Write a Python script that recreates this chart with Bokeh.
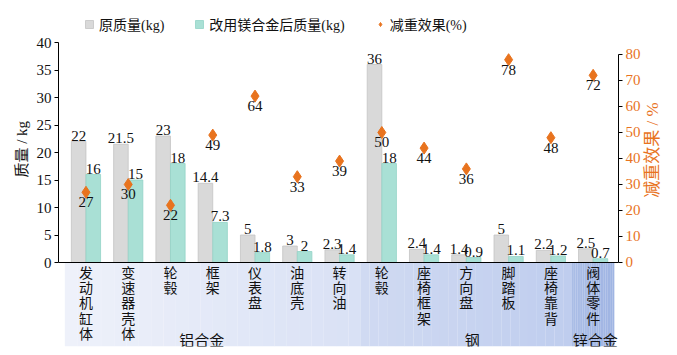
import numpy as np
from bokeh.plotting import figure
from bokeh.models import (Range1d, LinearAxis, FixedTicker, Span, Legend, LegendItem,
                          ColumnDataSource)
from bokeh.core.properties import value
from bokeh.embed import file_html
from bokeh.resources import INLINE

# ---------------- data ----------------
categories = ["发动机缸体", "变速器壳体", "轮毂", "框架", "仪表盘", "油底壳", "转向油",
              "轮毂", "座椅框架", "方向盘", "脚踏板", "座椅靠背", "阀体零件"]
original_kg = [22, 21.5, 23, 14.4, 5, 3, 2.3, 36, 2.4, 1.4, 5, 2.2, 2.5]
mg_alloy_kg = [16, 15, 18, 7.3, 1.8, 2, 1.4, 18, 1.4, 0.9, 1.1, 1.2, 0.7]
reduction_pct = [27, 30, 22, 49, 64, 33, 39, 50, 44, 36, 78, 48, 72]
group_names = ["铝合金", "钢", "锌合金"]
group_first = [0, 7, 12]
group_last = [6, 11, 12]
left_ticks = [0, 5, 10, 15, 20, 25, 30, 35, 40]
right_ticks = [0, 10, 20, 30, 40, 50, 60, 70, 80]

FONT = "Liberation Serif, Noto Sans CJK SC"
ORANGE = "#e8731e"

n = len(categories)
idx = np.arange(n)

W, H = 677, 355
p = figure(width=W, height=H, output_backend="svg", toolbar_location=None,
           x_range=Range1d(-0.65, 12.6), y_range=Range1d(-15.27, 46.91),
           x_axis_location=None, min_border_left=58, min_border_right=59,
           min_border_top=4, min_border_bottom=9)
p.outline_line_color = None
p.xgrid.visible = False
p.ygrid.visible = False
p.background_fill_color = "white"
p.extra_y_ranges = {"pct": Range1d(-32.31, 99.23)}

# ---------------- category band (gradient backgrounds) ----------------
band_colors = [("#eef1fa", "#d9e1f5"), ("#d0daf2", "#bfcdee"), ("#aabde6", "#a0b5e3")]
def hexrgb(h):
    return np.array([int(h[i:i + 2], 16) for i in (1, 3, 5)], dtype=float)
x_lo, x_hi = -0.65, 12.6
qx0, qx1, qc = [], [], []
for gi in range(len(group_names)):
    a = max(group_first[gi] - 0.5, x_lo)
    b = min(group_last[gi] + 0.5, x_hi)
    c0, c1 = hexrgb(band_colors[gi][0]), hexrgb(band_colors[gi][1])
    ns = 24
    edges = np.linspace(a, b, ns + 1)
    for k in range(ns):
        t = k / (ns - 1)
        c = (c0 * (1 - t) + c1 * t).round().astype(int)
        qx0.append(edges[k]); qx1.append(edges[k + 1] + 0.002)
        qc.append("#%02x%02x%02x" % tuple(c))
p.quad(left=qx0, right=qx1, bottom=-15.27, top=0, fill_color=qc, line_color=None)

# ---------------- bars ----------------
off, bw = 0.173, 0.345
src = ColumnDataSource(dict(
    xo=idx - off, xm=idx + off, xc=idx,
    orig=original_kg, mg=mg_alloy_kg, red=reduction_pct,
    orig_lbl=[f"{v:g}" for v in original_kg],
    mg_lbl=[f"{v:g}" for v in mg_alloy_kg],
    red_lbl=[f"{v:g}" for v in reduction_pct],
    cat_lbl=["\n".join(c) for c in categories],
))
r_orig = p.vbar(x="xo", top="orig", width=bw, source=src,
                fill_color="#d9d9d9", line_color="#c4c4c4", line_width=0.8)
r_mg = p.vbar(x="xm", top="mg", width=bw, source=src,
              fill_color="#a9e0d5", line_color="#93d3c6", line_width=0.8)

p.text(x="xo", y="orig", text="orig_lbl", source=src, text_align="center",
       text_baseline="bottom", y_offset=-1, text_font=value(FONT),
       text_font_size="15px", text_color="#111111")
p.text(x="xm", y="mg", text="mg_lbl", source=src, text_align="center",
       text_baseline="bottom", y_offset=-1, text_font=value(FONT),
       text_font_size="15px", text_color="#111111")

# ---------------- reduction markers ----------------
r_red = p.scatter(x="xc", y="red", source=src, y_range_name="pct", marker="diamond",
                  size=12, fill_color=ORANGE, line_color=ORANGE)
p.text(x="xc", y="red", text="red_lbl", source=src, y_range_name="pct",
       text_align="center", text_baseline="top", y_offset=5, text_font=value(FONT),
       text_font_size="15px", text_color="#111111")

# ---------------- category & group labels ----------------
p.text(x="xc", y=0, text="cat_lbl", source=src, text_align="center",
       text_baseline="top", y_offset=3, text_font=value(FONT),
       text_font_size="14px", text_line_height=1.03, text_color="#111111")
gsrc = ColumnDataSource(dict(
    x=[(group_first[i] + group_last[i]) / 2 for i in range(len(group_names))],
    t=group_names, dx=[-11, 6, 2]))
p.text(x="x", y=0, text="t", x_offset="dx", source=gsrc, text_align="center",
       text_baseline="top", y_offset=70, text_font=value(FONT),
       text_font_size="15px", text_color="#111111")

# baseline
p.add_layout(Span(location=0, dimension="width", line_color="black", line_width=1.2))

# ---------------- axes ----------------
NB = "\u00a0"
PAD_L = "\u3000\u3000\u3000" + NB * 2

ya = p.yaxis[0]
ya.bounds = (0, 40)
ya.ticker = FixedTicker(ticks=left_ticks)
ya.axis_line_color = "black"
ya.major_tick_line_color = "black"
ya.major_tick_out = 4
ya.major_tick_in = 0
ya.minor_tick_line_color = None
ya.major_label_text_font = FONT
ya.major_label_text_font_size = "15px"
ya.major_label_text_color = "#111111"
ya.major_label_standoff = 3
ya.axis_label = PAD_L + "质量 / kg"
ya.axis_label_text_font = FONT
ya.axis_label_text_font_size = "15px"
ya.axis_label_text_font_style = "normal"
ya.axis_label_text_color = "#111111"
ya.axis_label_standoff = 4

ra = LinearAxis(y_range_name="pct", bounds=(0, 80), ticker=FixedTicker(ticks=right_ticks))
ra.axis_line_color = "black"
ra.major_tick_line_color = "black"
ra.major_tick_out = 4
ra.major_tick_in = 0
ra.minor_tick_line_color = None
ra.major_label_text_font = FONT
ra.major_label_text_font_size = "15px"
ra.major_label_text_color = ORANGE
ra.major_label_standoff = 3
ra.axis_label_text_font = FONT
ra.axis_label_text_font_size = "17px"
ra.axis_label_text_font_style = "normal"
ra.axis_label_text_color = ORANGE
ra.axis_label_standoff = 9
ra_props = ra.properties()
if "axis_label_orientation" in ra_props and "axis_label_align" in ra_props:
    ra.axis_label_orientation = np.pi / 2
    ra.axis_label_align = "start"
    ra.axis_label = NB * 35 + "减重效果 / %"
else:
    ra.axis_label = "减重效果 / %"
p.add_layout(ra, "right")

# ---------------- legend ----------------
legend = Legend(items=[LegendItem(label="原质量(kg)", renderers=[r_orig]),
                       LegendItem(label="改用镁合金后质量(kg)", renderers=[r_mg]),
                       LegendItem(label="减重效果(%)", renderers=[r_red])],
                orientation="horizontal", location=(26, 312),
                background_fill_alpha=0, border_line_color=None,
                padding=0, margin=0, spacing=30, label_standoff=5,
                glyph_width=10, glyph_height=10,
                label_text_font=FONT, label_text_font_size="14px",
                label_text_color="#111111")
p.add_layout(legend, "center")

open("out.html", "w").write(file_html(p, INLINE))
